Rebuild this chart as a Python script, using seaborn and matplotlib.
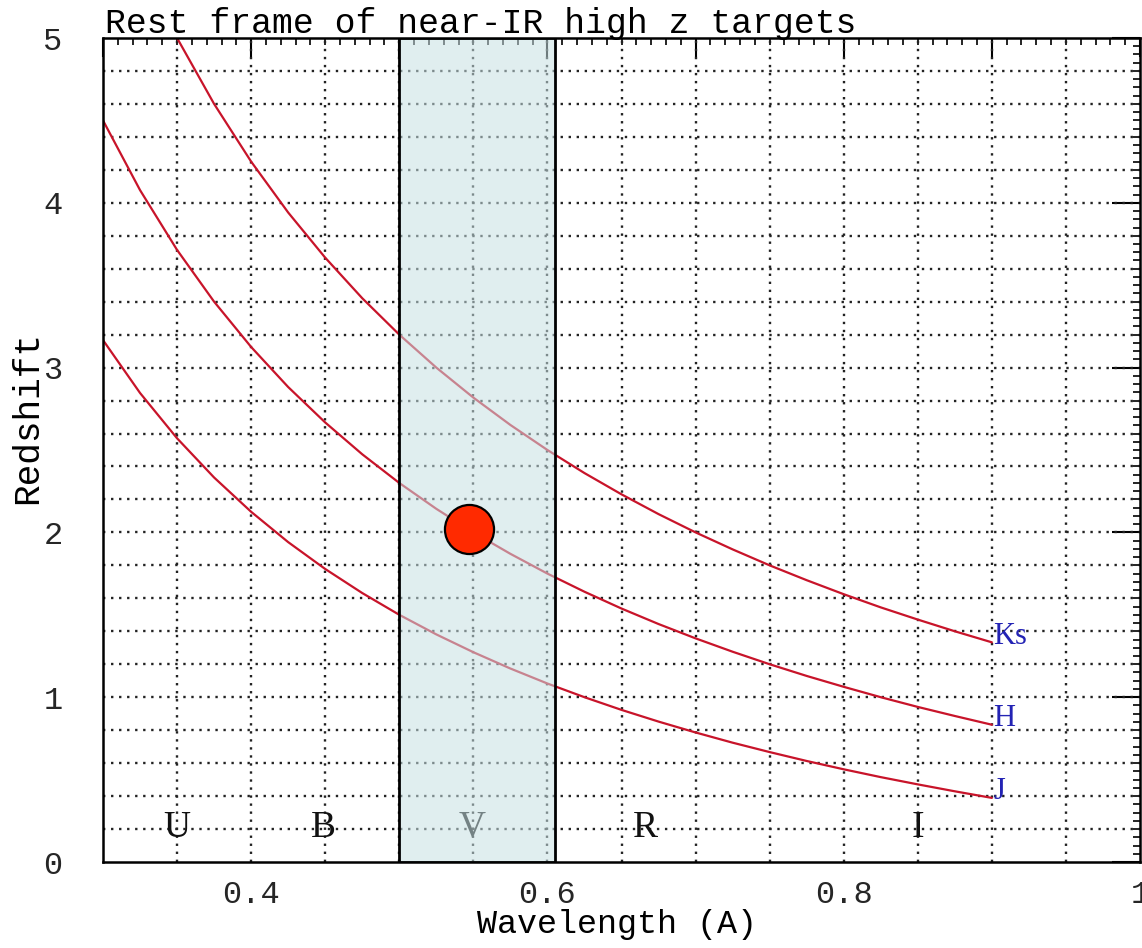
import numpy as np
import pandas as pd
import matplotlib
matplotlib.use("Agg")
import matplotlib.pyplot as plt
from matplotlib.ticker import MultipleLocator, FuncFormatter
from matplotlib.patches import Rectangle
import seaborn as sns

# ---- data ----
wl_ks = [0.350, 0.375, 0.400, 0.425, 0.450, 0.475, 0.500, 0.525, 0.550, 0.575, 0.600, 0.625,
         0.650, 0.675, 0.700, 0.725, 0.750, 0.775, 0.800, 0.825, 0.850, 0.875, 0.900]
z_ks = [5.000, 4.600, 4.250, 3.941, 3.667, 3.421, 3.200, 3.000, 2.818, 2.652, 2.500, 2.360,
        2.231, 2.111, 2.000, 1.897, 1.800, 1.710, 1.625, 1.545, 1.471, 1.400, 1.333]

wl_hj = [0.300, 0.325, 0.350, 0.375, 0.400, 0.425, 0.450, 0.475, 0.500, 0.525, 0.550, 0.575,
         0.600, 0.625, 0.650, 0.675, 0.700, 0.725, 0.750, 0.775, 0.800, 0.825, 0.850, 0.875, 0.900]
z_h = [4.500, 4.077, 3.714, 3.400, 3.125, 2.882, 2.667, 2.474, 2.300, 2.143, 2.000, 1.870,
       1.750, 1.640, 1.538, 1.444, 1.357, 1.276, 1.200, 1.129, 1.063, 1.000, 0.941, 0.886, 0.833]
z_j = [3.167, 2.846, 2.571, 2.333, 2.125, 1.941, 1.778, 1.632, 1.500, 1.381, 1.273, 1.174,
       1.083, 1.000, 0.923, 0.852, 0.786, 0.724, 0.667, 0.613, 0.5625, 0.515, 0.471, 0.429, 0.389]

filter_names = ["Ks", "H", "J"]
band_names = ["U", "B", "V", "R", "I"]
band_x = [0.350, 0.449, 0.549, 0.666, 0.850]
band_y = [0.21, 0.21, 0.21, 0.21, 0.21]

vband_lo, vband_hi = 0.500, 0.605
target_x = [0.547]
target_z = [2.02]

df = pd.concat([
    pd.DataFrame({"wl": wl_ks, "z": z_ks, "filter": "Ks"}),
    pd.DataFrame({"wl": wl_hj, "z": z_h, "filter": "H"}),
    pd.DataFrame({"wl": wl_hj, "z": z_j, "filter": "J"}),
], ignore_index=True)

# ---- figure ----
sns.set_style("white")
fig = plt.figure(figsize=(11.42, 9.48), dpi=100)
ax = fig.add_axes([103 / 1142, 1 - 862 / 948, (1140 - 103) / 1142, (862 - 38) / 948])

ax.set_xlim(0.3, 1.0)
ax.set_ylim(0, 5)

# dotted grid
dot = (0, (1, 2.4))
for gx in np.arange(0.35, 0.999, 0.05):
    ax.axvline(gx, color="#222222", lw=1.7, ls=dot, zorder=1)
for gy in np.arange(0.2, 4.999, 0.2):
    ax.axhline(gy, color="#222222", lw=1.7, ls=dot, zorder=1)

red = "#c8142a"
sns.lineplot(data=df, x="wl", y="z", hue="filter", palette={f: red for f in filter_names},
             sort=False, estimator=None, legend=False, lw=1.6, ax=ax, zorder=2)

for name, bx, by in zip(band_names, band_x, band_y):
    ax.text(bx, by, name, ha="center", va="center", fontsize=27,
            family="Liberation Serif", color="#111111", zorder=2)

# shaded V band (translucent over grid and curves)
ax.add_patch(Rectangle((vband_lo, 0), vband_hi - vband_lo, 5,
                       facecolor=(0.78, 0.88, 0.89, 0.55), edgecolor="black",
                       lw=2, zorder=3))

sns.scatterplot(x=target_x, y=target_z, s=1250, color="#ff2a00", edgecolor="black",
                linewidth=1.6, marker="o", ax=ax, zorder=5, legend=False)

# filter labels at curve ends
ends = {"Ks": z_ks[-1], "H": z_h[-1], "J": z_j[-1]}
for name in filter_names:
    ax.text(wl_hj[-1] + 0.001, ends[name] - 0.05, name, ha="left", va="bottom",
            fontsize=22, family="Liberation Serif", color="#2323b4", zorder=5)

# ticks
ax.xaxis.set_major_locator(MultipleLocator(0.1))
ax.xaxis.set_minor_locator(MultipleLocator(0.01))
ax.yaxis.set_major_locator(MultipleLocator(1))
ax.yaxis.set_minor_locator(MultipleLocator(0.05))

def xfmt(v, pos):
    r = round(v * 10)
    if r % 2 != 0 or r < 4:
        return ""
    return "1" if r == 10 else f"{v:.1f}"

ax.xaxis.set_major_formatter(FuncFormatter(xfmt))
ax.yaxis.set_major_formatter(FuncFormatter(lambda v, p: f"{int(round(v))}"))
ax.tick_params(axis="both", which="both", direction="in", top=True, right=True,
               color="black")
ax.tick_params(axis="x", which="major", length=14, width=1.5, pad=13, labelsize=23)
ax.tick_params(axis="y", which="major", length=20, width=1.5, pad=29, labelsize=23)
ax.tick_params(axis="both", which="minor", length=5, width=1.2)
for lab in ax.get_xticklabels() + ax.get_yticklabels():
    lab.set_family("Liberation Mono")

for sp in ax.spines.values():
    sp.set_color("black")
    sp.set_linewidth(1.8)
    sp.set_visible(True)

ax.set_xlabel("")
ax.set_ylabel("")
fig.text(105 / 1142, 1 - 33 / 948, "Rest frame of near-IR high z targets",
         ha="left", va="baseline", fontsize=25, family="Liberation Mono", color="black")
fig.text(617 / 1142, 1 - 925 / 948, "Wavelength (A)", ha="center", va="center",
         fontsize=24, family="Liberation Mono", color="black")
fig.text(28 / 1142, 1 - 418 / 948, "Redshift", ha="center", va="center", rotation=90,
         fontsize=26, family="Liberation Mono", color="black")

fig.savefig("out.png", dpi=100)
